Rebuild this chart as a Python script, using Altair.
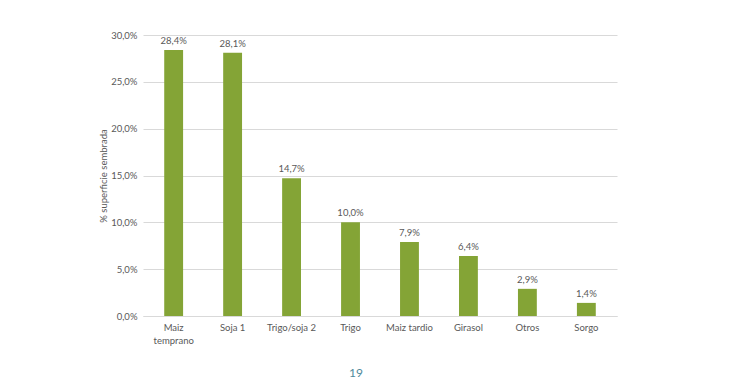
import altair as alt
import pandas as pd

categories = ["Maiz temprano", "Soja 1", "Trigo/soja 2", "Trigo", "Maiz tardio", "Girasol", "Otros", "Sorgo"]
values = [28.4, 28.1, 14.7, 10.0, 7.9, 6.4, 2.9, 1.4]

df = pd.DataFrame({"cultivo": categories, "pct": values})

FONT = "Lato"
GRAY = "#595959"
FS = 9.5

base = alt.Chart(df).encode(
    x=alt.X("cultivo:N", sort=categories, title=None,
            scale=alt.Scale(paddingInner=0.68, paddingOuter=0.36),
            axis=alt.Axis(labelAngle=0, ticks=False, domainColor="#d9d9d9",
                          labelColor=GRAY, labelFont=FONT, labelFontSize=FS,
                          labelPadding=6, labelLineHeight=13,
                          labelExpr="datum.label == 'Maiz temprano' ? ['Maiz', 'temprano'] : datum.label")),
    y=alt.Y("pct:Q", title="% superficie sembrada",
            scale=alt.Scale(domain=[0, 30], nice=False),
            axis=alt.Axis(values=[0, 5, 10, 15, 20, 25, 30], domain=False, ticks=False,
                          gridColor="#d9d9d9", labelColor=GRAY, labelFont=FONT,
                          labelFontSize=FS, labelPadding=6,
                          titleColor=GRAY, titleFont=FONT, titleFontSize=FS,
                          titleFontWeight="normal", titlePadding=2,
                          labelExpr="replace(format(datum.value, '.1f'), '.', ',') + '%'")),
)

bars = base.mark_bar(color="#84a436")

labels = base.transform_calculate(
    lbl="replace(format(datum.pct, '.1f'), '.', ',') + '%'"
).mark_text(baseline="bottom", dy=-4, font=FONT, fontSize=FS, color=GRAY).encode(text="lbl:N")

chart = (bars + labels).properties(
    width=474, height=281,
    autosize=alt.AutoSizeParams(type="none"),
    padding={"left": 135, "top": 27, "right": 114, "bottom": 62},
    title=alt.TitleParams("19", orient="bottom", anchor="middle", dx=-24, offset=23,
                          color="#4f8a9c", font=FONT, fontSize=12, fontWeight="normal"),
).configure_view(stroke=None)

chart.save("out.html", embed_options={"renderer": "svg", "actions": False})
